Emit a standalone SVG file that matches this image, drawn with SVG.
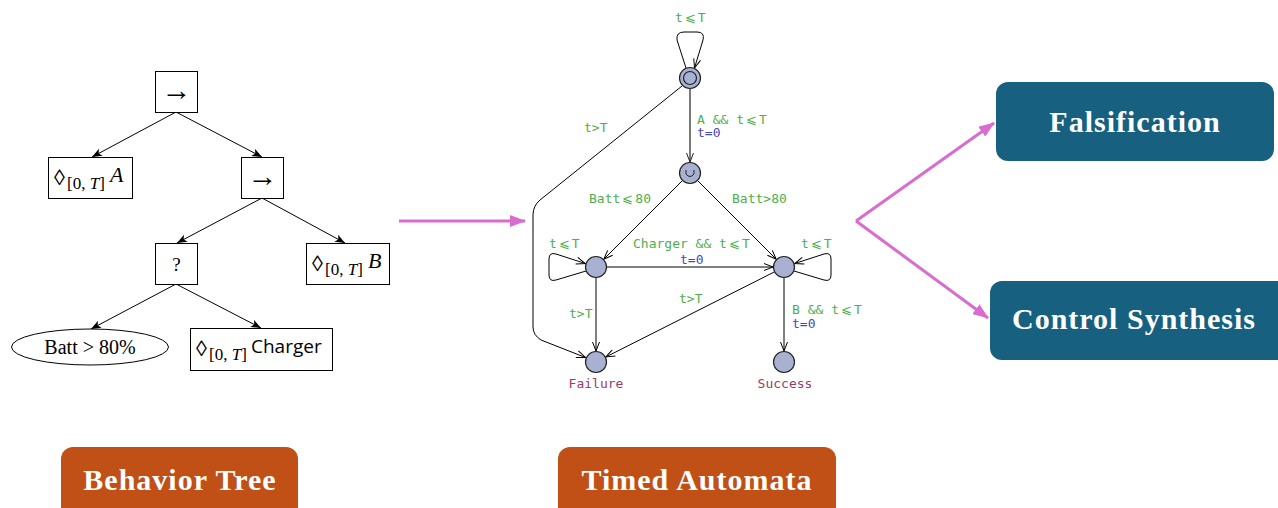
<svg xmlns="http://www.w3.org/2000/svg" width="1278" height="508" viewBox="0 0 1278 508">
<defs>
<style>
.bt{fill:#fff;stroke:#000;stroke-width:1}
.te{fill:none;stroke:#000;stroke-width:1}
.mt{font-family:"Liberation Serif","DejaVu Serif",serif;fill:#000}
.dm{font-size:22px}
.sb{font-size:17px}
.ae{fill:none;stroke:#000;stroke-width:1}
.loc{fill:#a8b1d2;stroke:#222;stroke-width:1.2}
.g{font-family:"DejaVu Sans Mono","Liberation Mono",monospace;font-size:13px;fill:#4fae4c}
.b{font-family:"DejaVu Sans Mono","Liberation Mono",monospace;font-size:13px;fill:#4848c0}
.n{font-family:"DejaVu Sans Mono","Liberation Mono",monospace;font-size:13px;fill:#9a3a6a}
.pk{fill:none;stroke:#d86ccf;stroke-width:3}
.lbl{font-family:"Liberation Serif","DejaVu Serif",serif;font-weight:bold;font-size:30px;fill:#fff;text-anchor:middle;letter-spacing:1px}
</style>
<marker id="ta" viewBox="0 0 10 8" refX="10" refY="4" markerWidth="10" markerHeight="8" markerUnits="userSpaceOnUse" orient="auto">
<path d="M0,0 L10,4 L0,8 L2.5,4 z" fill="#000"/>
</marker>
<marker id="aa" viewBox="0 0 10 8" refX="9.5" refY="4" markerWidth="10" markerHeight="8" markerUnits="userSpaceOnUse" orient="auto">
<path d="M0.5,0.5 L9.5,4 L0.5,7.5" fill="none" stroke="#000" stroke-width="1"/>
</marker>
<marker id="ag" viewBox="0 0 10 8" refX="9.5" refY="4" markerWidth="10" markerHeight="8" markerUnits="userSpaceOnUse" orient="auto">
<path d="M0.5,0.5 L9.5,4 L0.5,7.5" fill="none" stroke="#222" stroke-width="1"/>
</marker>
<marker id="pa" viewBox="0 0 16 12" refX="15" refY="6" markerWidth="16" markerHeight="12" markerUnits="userSpaceOnUse" orient="auto">
<path d="M0,0 L16,6 L0,12 z" fill="#d86ccf"/>
</marker>
</defs>

<!-- Behavior tree connectors -->
<g id="tree-edges">
<line class="te" x1="176" y1="112" x2="92" y2="157" marker-end="url(#ta)"/>
<line class="te" x1="176" y1="112" x2="262" y2="157" marker-end="url(#ta)"/>
<line class="te" x1="262" y1="198" x2="177" y2="243" marker-end="url(#ta)"/>
<line class="te" x1="262" y1="198" x2="345" y2="243" marker-end="url(#ta)"/>
<line class="te" x1="176" y1="284" x2="91" y2="329" marker-end="url(#ta)"/>
<line class="te" x1="176" y1="284" x2="261" y2="328" marker-end="url(#ta)"/>
</g>

<g id="bt-root">
<rect class="bt" x="155.5" y="71.5" width="42" height="41"/>
<text class="mt" x="176.5" y="100" font-size="30" text-anchor="middle">→</text>
</g>
<g id="bt-A">
<rect class="bt" x="48.5" y="157.5" width="84" height="41"/>
<text class="mt"><tspan class="dm" x="54" y="185">◊</tspan><tspan class="sb" x="67" y="189">[0, <tspan font-style="italic">T</tspan>]</tspan><tspan x="110" y="182" font-size="22" font-style="italic">A</tspan></text>
</g>
<g id="bt-seq2">
<rect class="bt" x="241.5" y="157.5" width="42" height="41"/>
<text class="mt" x="262.5" y="186" font-size="30" text-anchor="middle">→</text>
</g>
<g id="bt-fallback">
<rect class="bt" x="155.5" y="243.5" width="42" height="41"/>
<text class="mt" x="176.5" y="271" font-size="19" text-anchor="middle">?</text>
</g>
<g id="bt-B">
<rect class="bt" x="306.5" y="243.5" width="83" height="41"/>
<text class="mt"><tspan class="dm" x="312" y="271">◊</tspan><tspan class="sb" x="325" y="275">[0, <tspan font-style="italic">T</tspan>]</tspan><tspan x="368" y="268" font-size="22" font-style="italic">B</tspan></text>
</g>
<g id="bt-batt">
<ellipse class="bt" cx="90" cy="347" rx="78.5" ry="18"/>
<text class="mt" x="90" y="354" font-size="20" text-anchor="middle">Batt &gt; 80%</text>
</g>
<g id="bt-charger">
<rect class="bt" x="190.5" y="328.5" width="142" height="42"/>
<text class="mt"><tspan class="dm" x="196" y="356">◊</tspan><tspan class="sb" x="209" y="360">[0, <tspan font-style="italic">T</tspan>]</tspan><tspan x="251" y="353" font-size="19" font-family="'Open Sans','DejaVu Sans',sans-serif">Charger</tspan></text>
</g>

<!-- Pink flow arrows -->
<g id="flow">
<line class="pk" x1="399" y1="221" x2="525" y2="221" marker-end="url(#pa)"/>
<line class="pk" x1="856" y1="221" x2="994" y2="123" marker-end="url(#pa)"/>
<line class="pk" x1="856" y1="221" x2="988" y2="318" marker-end="url(#pa)"/>
</g>

<!-- Timed automaton connectors -->
<g id="ta-edges">
<path class="ae" d="M686,68 L677,40 Q676,32 684,32 L697,32 Q705,32 703,40 L694.5,68" marker-end="url(#aa)"/>
<line x1="690" y1="89" x2="690" y2="162" stroke="#7a7a7a" stroke-width="2" marker-end="url(#ag)"/>
<path class="ae" d="M682,86 L540,200 Q533,206 533,215 L533,327 Q533,335 541,340 L585.5,357.5" marker-end="url(#aa)"/>
<line class="ae" x1="682.2" y1="180.8" x2="603.8" y2="259.2" marker-end="url(#aa)"/>
<line class="ae" x1="697.8" y1="180.8" x2="776.2" y2="259.2" marker-end="url(#aa)"/>
<line class="ae" x1="607" y1="267" x2="773" y2="267" marker-end="url(#aa)"/>
<path class="ae" d="M586,271 L556,280 Q549,282 549,275 L549,259 Q549,252 556,254 L585.3,263.5" marker-end="url(#aa)"/>
<path class="ae" d="M794,271 L824,280 Q831,282 831,275 L831,259 Q831,252 824,254 L794.7,263.5" marker-end="url(#aa)"/>
<line class="ae" x1="596" y1="278" x2="596" y2="351" marker-end="url(#aa)"/>
<line class="ae" x1="774.2" y1="272" x2="605.8" y2="357" marker-end="url(#aa)"/>
<line class="ae" x1="784" y1="278" x2="784" y2="351" marker-end="url(#aa)"/>
</g>

<g id="ta-labels">
<text class="g" x="675" y="22">t<tspan dx="2">⩽</tspan><tspan dx="2">T</tspan></text>
<text class="g" x="584" y="132">t&gt;T</text>
<text class="g" x="697" y="124">A &amp;&amp; t<tspan dx="2">⩽</tspan><tspan dx="2">T</tspan></text>
<text class="b" x="697" y="137">t=0</text>
<text class="g" x="589" y="203">Batt<tspan dx="2">⩽</tspan><tspan dx="2">80</tspan></text>
<text class="g" x="732" y="203">Batt&gt;80</text>
<text class="g" x="549" y="248">t<tspan dx="2">⩽</tspan><tspan dx="2">T</tspan></text>
<text class="g" x="633" y="248">Charger &amp;&amp; t<tspan dx="2">⩽</tspan><tspan dx="2">T</tspan></text>
<text class="b" x="680" y="264">t=0</text>
<text class="g" x="801" y="248">t<tspan dx="2">⩽</tspan><tspan dx="2">T</tspan></text>
<text class="g" x="679" y="303">t&gt;T</text>
<text class="g" x="569" y="318">t&gt;T</text>
<text class="g" x="792" y="314">B &amp;&amp; t<tspan dx="2">⩽</tspan><tspan dx="2">T</tspan></text>
<text class="b" x="792" y="328">t=0</text>
</g>

<g id="ta-init">
<circle class="loc" cx="690" cy="78" r="10.5"/>
<circle cx="690" cy="78" r="6.5" fill="none" stroke="#222" stroke-width="1.2"/>
</g>
<g id="ta-urgent">
<circle class="loc" cx="690" cy="173" r="10.5"/>
<path d="M686,170 L686,174 Q690,179 694,174 L694,170" fill="none" stroke="#222" stroke-width="1"/>
</g>
<g id="ta-charge">
<circle class="loc" cx="596" cy="267" r="10.5"/>
</g>
<g id="ta-go">
<circle class="loc" cx="784" cy="267" r="10.5"/>
</g>
<g id="ta-failure">
<circle class="loc" cx="596" cy="362" r="10.5"/>
<text class="n" x="596" y="388" text-anchor="middle">Failure</text>
</g>
<g id="ta-success">
<circle class="loc" cx="784" cy="362" r="10.5"/>
<text class="n" x="785" y="388" text-anchor="middle">Success</text>
</g>

<g id="lbl-bt">
<rect x="61" y="447" width="237" height="75" rx="12" fill="#c05015"/>
<text class="lbl" x="180" y="490">Behavior Tree</text>
</g>
<g id="lbl-ta">
<rect x="558" y="447" width="278" height="75" rx="12" fill="#c05015"/>
<text class="lbl" x="697" y="490">Timed Automata</text>
</g>
<g id="lbl-fals">
<rect x="996" y="82" width="278" height="79" rx="12" fill="#176080"/>
<text class="lbl" x="1135" y="132">Falsification</text>
</g>
<g id="lbl-cs">
<rect x="990" y="281" width="300" height="79" rx="12" fill="#176080"/>
<text class="lbl" x="1134" y="329">Control Synthesis</text>
</g>
</svg>
